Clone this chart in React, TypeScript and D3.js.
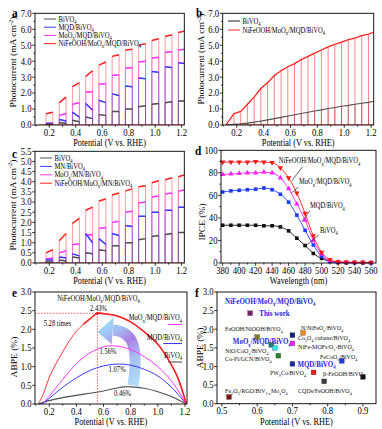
import React from 'react';
import * as d3 from 'd3';

const FONT = "'Liberation Serif','Times New Roman',Times,serif";
const SX = 0.87;
const C_GRAY = '#505050';
const C_BLUE = '#3a3aff';
const C_MAG = '#ff33ff';
const C_RED = '#ff2222';
const HL = '#2323e6';

// ---------- shared ticks ----------
const potTicks = [0.2, 0.4, 0.6, 0.8, 1.0, 1.2];
const potMinor = [0.1, 0.3, 0.5, 0.7, 0.9, 1.1];

// ---------- panel a (chopped LSV) ----------
const chopOn = [0.175, 0.275, 0.375, 0.475, 0.575, 0.675, 0.775, 0.875, 0.975, 1.075, 1.175];
const chopWidth = 0.052;
const aBiOn = [0.05, 0.15, 0.3, 0.5, 0.65, 0.85, 1.0, 1.15, 1.3, 1.4, 1.5];
const aBiOff = [0.05, 0.1, 0.2, 0.4, 0.6, 0.85, 1.0, 1.2, 1.35, 1.45, 1.5];
const aMqdOn = [0.1, 0.35, 0.8, 1.35, 1.55, 1.95, 2.45, 2.95, 3.35, 3.65, 3.9];
const aMqdOff = [0.1, 0.25, 0.5, 0.92, 1.4, 1.85, 2.4, 2.9, 3.3, 3.6, 3.85];
const aMoOn = [0.1, 0.6, 1.3, 2.05, 2.55, 3.1, 3.55, 3.95, 4.2, 4.55, 4.7];
const aMoOff = [0.12, 0.72, 1.4, 2.1, 2.6, 3.15, 3.6, 4.0, 4.25, 4.6, 4.75];
const aNiOn = [0.7, 1.4, 2.4, 3.05, 3.75, 4.3, 4.7, 5.0, 5.3, 5.55, 5.8];
const aNiOff = [0.8, 1.75, 2.65, 3.4, 3.95, 4.4, 4.75, 5.1, 5.4, 5.65, 5.9];
const aYTicks = [0, 1, 2, 3, 4, 5, 6, 7];
const aYMinor = [0.5, 1.5, 2.5, 3.5, 4.5, 5.5, 6.5];

// ---------- panel b ----------
const bX = [0.12, 0.18, 0.23, 0.28, 0.33, 0.38, 0.43, 0.48, 0.53, 0.58, 0.63, 0.68, 0.73, 0.78, 0.83, 0.88, 0.93, 0.98, 1.03, 1.08, 1.13, 1.18, 1.23];
const bNi = [0, 0.72, 0.85, 1.3, 1.75, 2.3, 2.65, 3.1, 3.4, 3.65, 3.85, 4.1, 4.3, 4.5, 4.7, 4.9, 5.05, 5.2, 5.35, 5.45, 5.6, 5.7, 5.85];
const bBi = [0, 0.05, 0.08, 0.12, 0.18, 0.25, 0.32, 0.4, 0.48, 0.56, 0.64, 0.72, 0.8, 0.88, 0.95, 1.03, 1.1, 1.17, 1.23, 1.3, 1.36, 1.42, 1.5];

// ---------- panel c ----------
const cBiOn = [0.05, 0.15, 0.3, 0.5, 0.65, 0.85, 1.0, 1.15, 1.3, 1.4, 1.5];
const cBiOff = [0.05, 0.1, 0.25, 0.45, 0.6, 0.85, 1.0, 1.2, 1.35, 1.45, 1.5];
const cMnOn = [0.15, 0.3, 0.45, 1.45, 1.2, 1.45, 1.85, 2.3, 2.5, 2.6, 2.75];
const cMnOff = [0.15, 0.25, 0.35, 1.0, 0.92, 1.35, 1.8, 2.3, 2.5, 2.6, 2.75];
const cMoOn = [0.2, 0.5, 0.9, 1.35, 1.7, 2.0, 2.5, 2.95, 3.25, 3.4, 3.55];
const cMoOff = [0.25, 0.6, 0.95, 1.4, 1.75, 2.05, 2.55, 3.0, 3.3, 3.45, 3.6];
const cNiOn = [0.5, 1.1, 1.95, 2.6, 3.05, 3.35, 3.55, 3.75, 3.95, 4.1, 4.25];
const cNiOff = [0.65, 1.45, 2.2, 2.75, 3.15, 3.45, 3.65, 3.8, 4.05, 4.2, 4.35];
const cYTicks = [0, 0.5, 1, 1.5, 2, 2.5, 3, 3.5, 4, 4.5, 5, 5.5];

// ---------- panel d (IPCE) ----------
const dWave = [380, 390, 400, 410, 420, 430, 440, 450, 460, 470, 480, 490, 500, 510, 520, 530, 540, 550, 560];
const dNi = [89.5, 89.5, 89.5, 89.5, 90, 89.5, 89, 84.5, 75.5, 62, 44, 24, 9.5, 3, 1, 0.8, 0.5, 0.5, 0.3];
const dMo = [78.5, 79, 79.5, 80, 80, 80.5, 80, 75.5, 66, 52.5, 38, 20, 8, 2, 1, 0.5, 0.5, 0.5, 0.3];
const dMqd = [63, 64, 64.5, 65, 65.5, 66.5, 65, 61, 54, 42.5, 29, 16, 6, 1.5, 0.5, 0.3, 0.3, 0.3, 0.3];
const dBi = [33.5, 33.5, 33.5, 33.5, 33.5, 33, 33, 32, 28.5, 22, 15.5, 8.5, 4, 1.5, 0.5, 0.3, 0.3, 0.3, 0.3];
const dXTicks = [380, 400, 420, 440, 460, 480, 500, 520, 540, 560];
const dXMinor = [390, 410, 430, 450, 470, 490, 510, 530, 550];
const dYTicks = [0, 20, 40, 60, 80, 100];
const dYMinor = [10, 30, 50, 70, 90];

// ---------- panel e (ABPE) ----------
const eNi = [[0.12, 0], [0.16, 0.3], [0.2, 0.72], [0.25, 1.08], [0.3, 1.4], [0.35, 1.7], [0.4, 1.95], [0.45, 2.13], [0.5, 2.28], [0.555, 2.43], [0.6, 2.42], [0.7, 2.36], [0.8, 2.2], [0.9, 1.93], [1.0, 1.6], [1.05, 1.35], [1.1, 1.05], [1.15, 0.68], [1.21, 0]];
const eMo = [[0.15, 0], [0.2, 0.21], [0.3, 0.66], [0.4, 1.08], [0.5, 1.37], [0.6, 1.53], [0.65, 1.56], [0.7, 1.55], [0.8, 1.46], [0.9, 1.27], [1.0, 1.0], [1.1, 0.62], [1.21, 0]];
const eMqd = [[0.15, 0], [0.2, 0.15], [0.3, 0.45], [0.4, 0.7], [0.5, 0.9], [0.6, 1.02], [0.7, 1.07], [0.8, 1.04], [0.9, 0.93], [1.0, 0.75], [1.1, 0.45], [1.21, 0]];
const eBi = [[0.12, 0], [0.2, 0.09], [0.3, 0.17], [0.4, 0.23], [0.5, 0.29], [0.6, 0.35], [0.7, 0.43], [0.75, 0.46], [0.8, 0.46], [0.9, 0.42], [1.0, 0.33], [1.1, 0.2], [1.21, 0]];
const ePeak = [0.555, 2.43];
const eYTicks = [0, 0.5, 1, 1.5, 2, 2.5, 3];

// ---------- panel f (comparison) ----------
const fNames = ['This work', 'FeOOH/NiOOH/BiVO_{4}', 'N:NiFeO_{x}/BiVO_{4}', 'Co_{3}O_{4} cubane/BiVO_{4}', 'MoO_{x}/MQD/BiVO_{4}', 'NiO/CoO_{x}/BiVO_{4}', 'NiFe-MOFs/O_{v}-BiVO_{4}', 'Co-Pi/GCN/BiVO_{4}', 'FeCoO_{x}/BiVO_{4}', 'MQD/BiVO_{4}', 'PW_{9}Co/BiVO_{4}', 'β-FeOOH/BiVO_{4}', 'CQDs/FeOOH/BiVO_{4}', 'Fe_{2}O_{3}/RGO/BiV_{1-x}Mo_{x}O_{4}'];
const fPot = [0.58, 0.60, 0.73, 0.70, 0.64, 0.65, 0.70, 0.66, 0.84, 0.70, 0.76, 0.90, 0.79, 0.52];
const fAbpe = [2.43, 1.79, 1.90, 1.84, 1.58, 1.50, 1.62, 1.29, 1.15, 1.07, 0.84, 0.72, 0.60, 0.18];
const fColors = ['#7a1f6a', '#7d7d14', '#f08a1e', '#0f1f78', '#0f7f80', '#22eef5', '#ff22ff', '#1f8a1f', '#1a3af0', '#1a2aa8', '#f01a1a', '#111111', '#3c3c3c', '#7a1010'];
const fHighlight = [true, false, false, false, true, false, false, false, false, true, false, false, false, false];
const fLabelPos = [[0.606, 2.35], [0.509, 1.95], [0.724, 1.99], [0.716, 1.71], [0.531, 1.59], [0.509, 1.37], [0.716, 1.47], [0.509, 1.14], [0.778, 1.2], [0.714, 0.98], [0.636, 0.76], [0.787, 0.74], [0.716, 0.28], [0.509, 0.28]];
const fXTicks = [0.5, 0.6, 0.7, 0.8, 0.9];
const fXMinor = [0.55, 0.65, 0.75, 0.85];

// ---------- scales ----------
const xA = d3.scaleLinear().domain([0.092, 1.22]).range([35, 184.3]);
const yA = d3.scaleLinear().domain([0, 7]).range([125, 13.3]);
const xB = d3.scaleLinear().domain([0.096, 1.219]).range([222.7, 373.7]);
const yB = d3.scaleLinear().domain([0, 7]).range([125, 13.3]);
const xC = d3.scaleLinear().domain([0.092, 1.22]).range([35, 184.3]);
const yC = d3.scaleLinear().domain([0, 5.5]).range([263, 151.3]);
const xD = d3.scaleLinear().domain([378, 566]).range([221, 376]);
const yD = d3.scaleLinear().domain([0, 100]).range([263, 150.3]);
const xE = d3.scaleLinear().domain([0.095, 1.215]).range([35, 187]);
const yE = d3.scaleLinear().domain([0, 3]).range([404, 292]);
const xF = d3.scaleLinear().domain([0.486, 0.937]).range([217, 376]);
const yF = d3.scaleLinear().domain([0, 3]).range([403.7, 292]);

const f1 = d3.format('.1f');
const f0 = d3.format('d');

function rich(s: string, fs: number) {
  const out: any[] = [];
  const re = /([_^])\{([^}]*)\}/g;
  let last = 0;
  let cur = 0;
  let key = 0;
  let m: any;
  while ((m = re.exec(s)) !== null) {
    if (m.index > last) {
      out.push(<tspan key={key++} dy={-cur}>{s.slice(last, m.index)}</tspan>);
      cur = 0;
    }
    const d = m[1] === '_' ? fs * 0.28 : -fs * 0.4;
    out.push(<tspan key={key++} dy={d - cur} fontSize={fs * 0.68}>{m[2]}</tspan>);
    cur = d;
    last = re.lastIndex;
  }
  if (last < s.length) out.push(<tspan key={key++} dy={-cur}>{s.slice(last)}</tspan>);
  return out;
}

function T({ x, y, size = 9.5, anchor = 'start', weight = 'normal', fill = '#000', rot = false, text }: any) {
  const tr = rot ? `translate(${x},${y}) rotate(-90) scale(1,${SX})` : `translate(${x},${y}) scale(${SX},1)`;
  return (
    <text transform={tr} fontSize={size} textAnchor={anchor} fontWeight={weight} fill={fill}>
      {rich(text, size)}
    </text>
  );
}

function Axes({ xs, ys, xt, xm, yt, ym, xf, yf }: any) {
  const [x0, x1] = xs.range();
  const [y0, y1] = ys.range();
  return (
    <g>
      <rect x={x0} y={y1} width={x1 - x0} height={y0 - y1} fill="none" stroke="#000" strokeWidth={0.9} />
      {xt.map((t: number, i: number) => (
        <g key={'xt' + i}>
          <line x1={xs(t)} x2={xs(t)} y1={y0} y2={y0 + 2.8} stroke="#000" strokeWidth={0.8} />
          <T x={xs(t)} y={y0 + 10.6} size={10} anchor="middle" text={xf(t)} />
        </g>
      ))}
      {xm.map((t: number, i: number) => (
        <line key={'xm' + i} x1={xs(t)} x2={xs(t)} y1={y0} y2={y0 + 1.6} stroke="#000" strokeWidth={0.8} />
      ))}
      {yt.map((t: number, i: number) => (
        <g key={'yt' + i}>
          <line x1={x0 - 2.8} x2={x0} y1={ys(t)} y2={ys(t)} stroke="#000" strokeWidth={0.8} />
          <T x={x0 - 3.5} y={ys(t) + 3.4} size={10} anchor="end" text={yf(t)} />
        </g>
      ))}
      {ym.map((t: number, i: number) => (
        <line key={'ym' + i} x1={x0 - 1.6} x2={x0} y1={ys(t)} y2={ys(t)} stroke="#000" strokeWidth={0.8} />
      ))}
    </g>
  );
}

function Legend({ items, x, y, dy, size = 7.6, len = 12 }: any) {
  return (
    <g>
      {items.map((it: any, i: number) => (
        <g key={i}>
          <line x1={x} x2={x + len} y1={y + i * dy} y2={y + i * dy} stroke={it.color} strokeWidth={1} />
          <T x={x + len + 2.5} y={y + i * dy + 2.6} size={size} text={it.label} />
        </g>
      ))}
    </g>
  );
}

function ChopPanel({ id, xs, ys, series }: any) {
  const [x0, x1] = xs.range();
  const [y0, y1] = ys.range();
  return (
    <g>
      <clipPath id={id}>
        <rect x={x0} y={y1} width={x1 - x0} height={y0 - y1} />
      </clipPath>
      <g clipPath={`url(#${id})`}>
        {series.map((s: any, si: number) => {
          let d = '';
          let top = '';
          chopOn.forEach((xv, i) => {
            d += `M${xs(xv)},${ys(0)}V${ys(s.on[i])}L${xs(xv + chopWidth)},${ys(s.off[i])}V${ys(0)}`;
            top += `M${xs(xv)},${ys(s.on[i])}L${xs(xv + chopWidth)},${ys(s.off[i])}`;
          });
          return (
            <g key={si}>
              <path d={d} fill="none" stroke={s.color} strokeOpacity={0.45} strokeWidth={1} />
              <path d={top} fill="none" stroke={s.color} strokeWidth={1.5} />
            </g>
          );
        })}
        <line x1={xs(0.12)} x2={x1} y1={ys(0)} y2={ys(0)} stroke={C_RED} strokeWidth={1} />
      </g>
    </g>
  );
}

function PanelA() {
  const series = [
    { color: C_RED, on: aNiOn, off: aNiOff },
    { color: C_MAG, on: aMoOn, off: aMoOff },
    { color: C_BLUE, on: aMqdOn, off: aMqdOff },
    { color: C_GRAY, on: aBiOn, off: aBiOff },
  ];
  return (
    <g>
      <ChopPanel id="clipA" xs={xA} ys={yA} series={series} />
      <Axes xs={xA} ys={yA} xt={potTicks} xm={potMinor} yt={aYTicks} ym={aYMinor} xf={f1} yf={f1} />
      <Legend
        x={44}
        y={19}
        dy={8.2}
        items={[
          { color: C_GRAY, label: 'BiVO_{4}' },
          { color: C_BLUE, label: 'MQD/BiVO_{4}' },
          { color: C_MAG, label: 'MoO_{x}/MQD/BiVO_{4}' },
          { color: C_RED, label: 'NiFeOOH/MoO_{x}/MQD/BiVO_{4}' },
        ]}
      />
      <T x={16} y={62} rot size={9.5} anchor="middle" text="Photocurrent (mA cm^{-2})" />
      <T x={(xA.range()[0] + xA.range()[1]) / 2} y={146} size={9.5} anchor="middle" text="Potential (V vs. RHE)" />
      <T x={12} y={17} size={13} weight="bold" text="a" />
    </g>
  );
}

function PanelB() {
  const [x0, x1] = xB.range();
  const [y0, y1] = yB.range();
  const line = d3.line<number>().x((_, i) => xB(bX[i])).y((v) => yB(v));
  return (
    <g>
      <clipPath id="clipB">
        <rect x={x0} y={y1} width={x1 - x0} height={y0 - y1} />
      </clipPath>
      <g clipPath="url(#clipB)">
        {bX.slice(1).map((xv, i) => (
          <line key={'bb' + i} x1={xB(xv)} x2={xB(xv)} y1={yB(0)} y2={yB(bBi[i + 1])} stroke={C_GRAY} strokeOpacity={0.6} strokeWidth={0.9} />
        ))}
        {bX.slice(1).map((xv, i) => (
          <line key={'br' + i} x1={xB(xv)} x2={xB(xv)} y1={yB(0)} y2={yB(bNi[i + 1])} stroke={C_RED} strokeOpacity={0.55} strokeWidth={1} />
        ))}
        <line x1={xB(0.12)} x2={x1} y1={yB(0)} y2={yB(0)} stroke={C_RED} strokeWidth={1} />
        <path d={line(bBi) || ''} fill="none" stroke={C_GRAY} strokeWidth={1.1} />
        <path d={line(bNi) || ''} fill="none" stroke={C_RED} strokeWidth={1.3} />
      </g>
      <Axes xs={xB} ys={yB} xt={potTicks} xm={potMinor} yt={aYTicks} ym={aYMinor} xf={f1} yf={f1} />
      <Legend
        x={228}
        y={21}
        dy={9}
        items={[
          { color: '#222', label: 'BiVO_{4}' },
          { color: C_RED, label: 'NiFeOOH/MoO_{x}/MQD/BiVO_{4}' },
        ]}
      />
      <T x={204} y={59} rot size={9.5} anchor="middle" text="Photocurrent (mA cm^{-2})" />
      <T x={(x0 + x1) / 2} y={146} size={9.5} anchor="middle" text="Potential (V vs. RHE)" />
      <T x={196} y={17} size={13} weight="bold" text="b" />
    </g>
  );
}

function PanelC() {
  const series = [
    { color: C_RED, on: cNiOn, off: cNiOff },
    { color: C_MAG, on: cMoOn, off: cMoOff },
    { color: C_BLUE, on: cMnOn, off: cMnOff },
    { color: C_GRAY, on: cBiOn, off: cBiOff },
  ];
  return (
    <g>
      <ChopPanel id="clipC" xs={xC} ys={yC} series={series} />
      <Axes xs={xC} ys={yC} xt={potTicks} xm={potMinor} yt={cYTicks} ym={[]} xf={f1} yf={f1} />
      <Legend
        x={40}
        y={158}
        dy={8.4}
        items={[
          { color: C_GRAY, label: 'BiVO_{4}' },
          { color: C_BLUE, label: 'MN/BiVO_{4}' },
          { color: C_MAG, label: 'MoO_{x}/MN/BiVO_{4}' },
          { color: C_RED, label: 'NiFeOOH/MoO_{x}/MN/BiVO_{4}' },
        ]}
      />
      <T x={15.5} y={205} rot size={9.5} anchor="middle" text="Photocurrent (mA cm^{-2})" />
      <T x={(xC.range()[0] + xC.range()[1]) / 2} y={283.5} size={9.5} anchor="middle" text="Potential (V vs. RHE)" />
      <T x={12} y={158} size={13} weight="bold" text="c" />
    </g>
  );
}

function PanelD() {
  const mk = (vals: number[]) =>
    d3.line<number>().x((_, i) => xD(dWave[i])).y((v) => yD(v)).curve(d3.curveMonotoneX)(vals) || '';
  const tri = d3.symbol(d3.symbolTriangle, 13)() || '';
  const sq = d3.symbol(d3.symbolSquare, 13)() || '';
  const series = [
    { v: dBi, c: '#111', m: sq, r: 0 },
    { v: dMqd, c: '#1c3cff', m: sq, r: 0 },
    { v: dMo, c: '#ff22ff', m: tri, r: 0 },
    { v: dNi, c: '#ff1a1a', m: tri, r: 180 },
  ];
  const labels = [
    { t: 'NiFeOOH/MoO_{x}/MQD/BiVO_{4}', x: 448, y: 88.3, l: [[477, 85.5], [464, 73]] },
    { t: 'MoO_{x}/MQD/BiVO_{4}', x: 472.6, y: 69.7, l: [[472, 67.5], [463, 62]] },
    { t: 'MQD/BiVO_{4}', x: 486, y: 48.4, l: [[486, 46.5], [476, 37]] },
    { t: 'BiVO_{4}', x: 498, y: 27, l: [[497, 25], [481, 15.5]] },
  ];
  return (
    <g>
      {series.map((s, si) => (
        <g key={si}>
          <path d={mk(s.v)} fill="none" stroke={s.c} strokeWidth={0.9} />
          {s.v.map((v, i) => (
            <path key={i} d={s.m} transform={`translate(${xD(dWave[i])},${yD(v)}) rotate(${s.r})`} fill={s.c} />
          ))}
        </g>
      ))}
      {labels.map((lb, i) => (
        <g key={i}>
          <line x1={xD(lb.l[0][0])} y1={yD(lb.l[0][1])} x2={xD(lb.l[1][0])} y2={yD(lb.l[1][1])} stroke="#222" strokeWidth={0.7} />
          <T x={xD(lb.x)} y={yD(lb.y)} size={7.5} text={lb.t} />
        </g>
      ))}
      <Axes xs={xD} ys={yD} xt={dXTicks} xm={dXMinor} yt={dYTicks} ym={dYMinor} xf={f0} yf={f0} />
      <T x={205} y={222} rot size={9.5} anchor="middle" text="IPCE (%)" />
      <T x={(xD.range()[0] + xD.range()[1]) / 2} y={283.5} size={9.5} anchor="middle" text="Wavelength (nm)" />
      <T x={195} y={155} size={13} weight="bold" text="d" />
    </g>
  );
}

function PanelE() {
  const ln = d3.line<number[]>().x((d) => xE(d[0])).y((d) => yE(d[1])).curve(d3.curveCatmullRom);
  const niRight = eNi.filter((d) => d[0] >= 0.45);
  const sideLabels = [
    { t: 'MoO_{x}/MQD/BiVO_{4}', y: 2.24, ly: 2.13, lx: 1.075, c: C_MAG },
    { t: 'MQD/BiVO_{4}', y: 1.71, ly: 1.62, lx: 1.04, c: C_BLUE },
    { t: 'BiVO_{4}', y: 1.23, ly: 1.125, lx: 1.075, c: C_GRAY },
  ];
  const valueLabels = [
    { t: 'NiFeOOH/MoO_{x}/MQD/BiVO_{4}', x: 0.563, y: 2.75 },
    { t: '2.43%', x: 0.563, y: 2.5 },
    { t: '5.28 times', x: 0.26, y: 2.1 },
    { t: '1.56%', x: 0.633, y: 1.34 },
    { t: '1.07%', x: 0.7, y: 0.86 },
    { t: '0.46%', x: 0.74, y: 0.21 },
  ];
  // curved arrow (annotation) in data coords
  const aTail = [0.817, 0.5];
  const aC1 = [0.86, 1.5];
  const aC2 = [0.82, 1.95];
  const aEnd = [0.67, 1.98];
  const aTip = [0.555, 1.93];
  const headTop = [0.675, 2.32];
  const headBot = [0.66, 1.6];
  const body = `M${xE(aTail[0])},${yE(aTail[1])}C${xE(aC1[0])},${yE(aC1[1])} ${xE(aC2[0])},${yE(aC2[1])} ${xE(aEnd[0])},${yE(aEnd[1])}`;
  const head = `M${xE(aTip[0])},${yE(aTip[1])}L${xE(headTop[0])},${yE(headTop[1])}L${xE(headBot[0])},${yE(headBot[1])}Z`;
  return (
    <g>
      <defs>
        <linearGradient id="arrG" gradientUnits="userSpaceOnUse" x1={xE(aTail[0])} y1={yE(aTail[1])} x2={xE(aTip[0])} y2={yE(aTip[1])}>
          <stop offset="0" stopColor="#a6d8f8" />
          <stop offset="0.35" stopColor="#9fb8f2" />
          <stop offset="0.62" stopColor="#a272e2" />
          <stop offset="0.85" stopColor="#9bb4f2" />
          <stop offset="1" stopColor="#92cdf6" />
        </linearGradient>
      </defs>
      <path d={body} fill="none" stroke="url(#arrG)" strokeWidth={11} opacity={0.9} />
      <path d={head} fill="url(#arrG)" opacity={0.9} />
      <path d={ln(eBi) || ''} fill="none" stroke={C_GRAY} strokeWidth={1.1} />
      <path d={ln(eMqd) || ''} fill="none" stroke={C_BLUE} strokeWidth={1} />
      <path d={ln(eMo) || ''} fill="none" stroke={C_MAG} strokeWidth={1} />
      <path d={ln(eNi) || ''} fill="none" stroke={C_RED} strokeWidth={0.9} />
      <path d={ln(niRight) || ''} fill="none" stroke={C_RED} strokeWidth={1.6} />
      <line x1={xE.range()[0]} x2={xE(ePeak[0])} y1={yE(ePeak[1])} y2={yE(ePeak[1])} stroke="#e33" strokeWidth={0.8} strokeDasharray="1.5,1.5" />
      <line x1={xE(ePeak[0])} x2={xE(ePeak[0])} y1={yE(ePeak[1])} y2={yE(0)} stroke="#e33" strokeWidth={0.8} strokeDasharray="1.5,1.5" />
      <circle cx={xE(ePeak[0])} cy={yE(ePeak[1])} r={1.6} fill={C_RED} />
      {valueLabels.map((v, i) => (
        <T key={i} x={xE(v.x)} y={yE(v.y)} size={7.6} anchor="middle" text={v.t} />
      ))}
      {sideLabels.map((s, i) => (
        <g key={i}>
          <T x={xE(1.178)} y={yE(s.y)} size={7.6} anchor="end" text={s.t} />
          <line x1={xE(s.lx)} x2={xE(1.178)} y1={yE(s.ly)} y2={yE(s.ly)} stroke={s.c} strokeWidth={1.1} />
        </g>
      ))}
      <Axes xs={xE} ys={yE} xt={potTicks} xm={potMinor} yt={eYTicks} ym={[]} xf={f1} yf={f1} />
      <T x={16.5} y={357} rot size={9.5} anchor="middle" text="ABPE (%)" />
      <T x={(xE.range()[0] + xE.range()[1]) / 2} y={425} size={9.5} anchor="middle" text="Potential (V vs. RHE)" />
      <T x={12} y={297} size={13} weight="bold" text="e" />
    </g>
  );
}

function PanelF() {
  return (
    <g>
      <T x={xF(0.509)} y={yF(2.68)} size={8} weight="bold" fill={HL} text="NiFeOOH/MoO_{x}/MQD/BiVO_{4}" />
      {fNames.map((n, i) => (
        <T
          key={'l' + i}
          x={xF(fLabelPos[i][0])}
          y={yF(fLabelPos[i][1])}
          size={fHighlight[i] ? 8 : 6.9}
          weight={fHighlight[i] ? 'bold' : 'normal'}
          fill={fHighlight[i] ? HL : '#111'}
          text={n}
        />
      ))}
      {fNames.map((n, i) => (
        <rect key={'p' + i} x={xF(fPot[i]) - 2.4} y={yF(fAbpe[i]) - 2.4} width={4.8} height={4.8} fill={fColors[i]} stroke="#333" strokeWidth={0.3} />
      ))}
      <Axes xs={xF} ys={yF} xt={fXTicks} xm={fXMinor} yt={eYTicks} ym={[]} xf={f1} yf={f1} />
      <T x={202.5} y={348} rot size={9.5} anchor="middle" text="ABPE (%)" />
      <T x={(xF.range()[0] + xF.range()[1]) / 2} y={425} size={9.5} anchor="middle" text="Potential (V vs. RHE)" />
      <T x={195} y={297} size={13} weight="bold" text="f" />
    </g>
  );
}

export default function App() {
  return (
    <svg
      width={382}
      height={429}
      viewBox="0 0 382 429"
      style={{ position: 'absolute', left: 0, top: 0, background: '#fff' }}
      fontFamily={FONT}
    >
      <rect x={0} y={0} width={382} height={429} fill="#fff" />
      <PanelA />
      <PanelB />
      <PanelC />
      <PanelD />
      <PanelE />
      <PanelF />
    </svg>
  );
}
